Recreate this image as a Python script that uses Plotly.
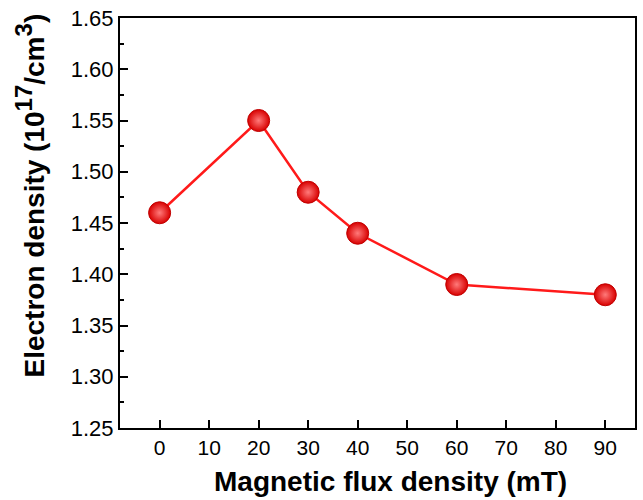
import plotly.graph_objects as go

flux_mT = [0, 20, 30, 40, 60, 90]
electron_density = [1.46, 1.55, 1.48, 1.44, 1.39, 1.38]
x_ticks = [0, 10, 20, 30, 40, 50, 60, 70, 80, 90]
y_ticks = [1.25, 1.30, 1.35, 1.40, 1.45, 1.50, 1.55, 1.60, 1.65]
x_title = "<b>Magnetic flux density (mT)</b>"
y_title = ("<b>Electron density (10<sup><span style='font-size:24px'>17</span></sup>"
           "/cm<sup><span style='font-size:24px'>3</span></sup>)</b>")

fig = go.Figure()
fig.add_trace(go.Scatter(
    x=flux_mT, y=electron_density, mode="lines+markers",
    line=dict(color="#ff1a1a", width=2.5),
    marker=dict(size=22, color="#d80000",
                gradient=dict(type="radial", color="#ff7a7a"),
                line=dict(color="#c00000", width=1)),
    showlegend=False,
))

font = "Liberation Sans, Arial, sans-serif"
fig.update_layout(
    width=643, height=500,
    margin=dict(l=120, r=6, t=17, b=72),
    paper_bgcolor="white", plot_bgcolor="white",
    font=dict(family=font, color="black"),
    xaxis=dict(
        range=[-8, 96], tickvals=x_ticks, ticks="inside", ticklen=8, tickwidth=1.5,
        tickcolor="black", showline=True, linecolor="black", linewidth=2, mirror=True,
        showgrid=False, zeroline=False, tickfont=dict(size=21),
    ),
    yaxis=dict(
        range=[1.25, 1.65], tickvals=y_ticks, tickformat=".2f", ticks="inside", ticklen=8,
        tickwidth=1.5, tickcolor="black", showline=True, linecolor="black", linewidth=2,
        mirror=True, showgrid=False, zeroline=False, tickfont=dict(size=22),
        minor=dict(ticks="inside", ticklen=4, tickcolor="black", dtick=0.025, tick0=1.25),
    ),
    annotations=[
        dict(text=x_title, xref="paper", yref="paper", x=0.525, y=0, yshift=-53,
             xanchor="center", yanchor="middle", showarrow=False,
             font=dict(size=28, family=font, color="black")),
        dict(text=y_title, xref="paper", yref="paper", x=0, xshift=-90, y=0.567,
             xanchor="center", yanchor="middle", textangle=-90, showarrow=False,
             font=dict(size=28, family=font, color="black")),
    ],
)
fig.write_html("out.html")
